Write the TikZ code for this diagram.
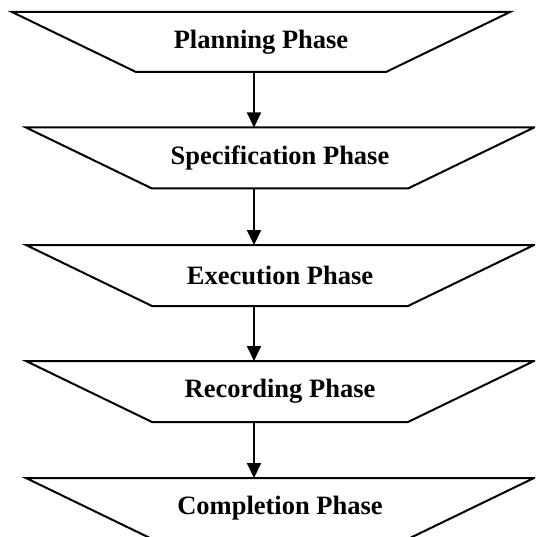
\documentclass[tikz,border=0pt]{standalone}
\usepackage{fontspec}
\setmainfont{Liberation Serif}
\usepackage{tikz}
\usetikzlibrary{arrows.meta,positioning,calc}
\tikzset{
  phase/.style   ={rectangle, inner sep=0pt, outer sep=0pt,
                   minimum width=508pt, minimum height=61pt, align=center,
                   font=\fontsize{26.5}{30}\selectfont\bfseries},
  edge/.style    ={draw=black, line width=2pt, line join=miter},
  flow/.style    ={-{Triangle[length=15pt, width=14pt]}, line width=2pt},
}
\begin{document}
\begin{tikzpicture}[x=1pt, y=-1pt]
    \clip (0,0) rectangle (535,537);

    \node[phase, minimum width=498pt, minimum height=60pt] (plan) at (261,42) {Planning Phase};
    \node[phase] (spec) at (280,158) {Specification Phase};
    \node[phase] (exec) at (280,275.5) {Execution Phase};
    \node[phase] (rec)  at (280,391.5) {Recording Phase};
    \node[phase] (comp) at (280,508.5) {Completion Phase};

    % inverted trapezoid outlines
    \foreach \n/\d in {plan/124,spec/126,exec/126,rec/126,comp/126}
        \draw[edge] (\n.north west) -- (\n.north east)
            -- ($(\n.south east)+(-\d,0)$) -- ($(\n.south west)+(\d,0)$) -- cycle;

    \coordinate (ax) at (254,0);
    \foreach \a/\b in {plan/spec,spec/exec,exec/rec,rec/comp}
        \draw[flow] (\a.south -| ax) -- (\b.north -| ax);
\end{tikzpicture}
\end{document}
